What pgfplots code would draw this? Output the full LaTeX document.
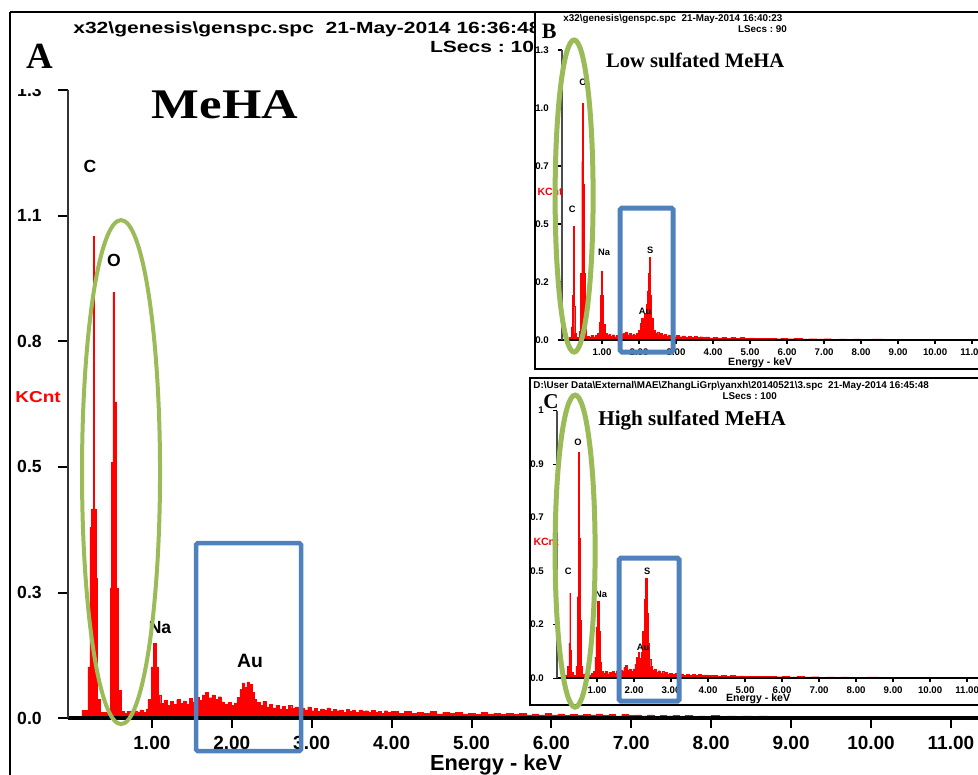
\documentclass[border=0pt]{standalone}
\usepackage{pgfplots}
\usepackage{pgfplotstable}
\usepackage{graphicx}
\pgfplotsset{compat=1.18}
\usepackage{fontspec}
\setmainfont{Liberation Sans}
\newfontfamily\tnr{Liberation Serif}
\definecolor{spec}{RGB}{255,0,0}
\definecolor{ellg}{RGB}{155,187,89}
\definecolor{boxb}{RGB}{79,129,189}
\newcommand\fs[1]{\fontsize{#1}{#1}\selectfont}

% MeHA spectrum (keV, KCnt)
\pgfplotstableread{
E v
-0.05 0
0.125 0.017
0.200 0.11
0.225 0.41
0.244 0.45
0.263 1.036
0.282 0.45
0.300 0.30
0.319 0.04
0.350 0.012
0.476 0.28
0.494 0.55
0.513 0.916
0.532 0.68
0.557 0.28
0.576 0.06
0.613 0.014
0.65 0.010
0.69 0.015
0.73 0.009
0.77 0.016
0.81 0.012
0.85 0.018
0.89 0.013
0.93 0.02
0.95 0.04
0.99 0.11
1.02 0.161
1.05 0.11
1.08 0.05
1.11 0.032
1.15 0.038
1.19 0.028
1.23 0.036
1.27 0.030
1.31 0.040
1.35 0.032
1.39 0.037
1.43 0.029
1.47 0.042
1.51 0.035
1.55 0.045
1.59 0.038
1.63 0.050
1.67 0.055
1.71 0.044
1.75 0.050
1.79 0.040
1.83 0.046
1.87 0.035
1.91 0.030
1.95 0.034
1.99 0.028
2.03 0.033
2.07 0.045
2.10 0.062
2.13 0.076
2.16 0.066
2.19 0.078
2.22 0.072
2.25 0.055
2.28 0.040
2.31 0.034
2.35 0.028
2.39 0.036
2.43 0.024
2.47 0.030
2.51 0.022
2.55 0.028
2.59 0.020
2.63 0.025
2.67 0.019
2.71 0.027
2.75 0.021
2.79 0.024
2.83 0.017
2.87 0.022
2.91 0.018
2.95 0.024
2.99 0.016
3.03 0.021
3.07 0.015
3.11 0.020
3.15 0.017
3.19 0.022
3.23 0.014
3.27 0.019
3.31 0.016
3.35 0.018
3.39 0.013
3.43 0.019
3.47 0.015
3.51 0.017
3.55 0.012
3.59 0.018
3.63 0.014
3.67 0.016
3.71 0.012
3.75 0.017
3.79 0.013
3.83 0.015
3.87 0.011
3.91 0.016
3.95 0.012
4.00 0.014
4.08 0.011
4.16 0.015
4.24 0.010
4.32 0.013
4.40 0.011
4.48 0.014
4.56 0.009
4.64 0.012
4.72 0.010
4.80 0.013
4.88 0.009
4.96 0.011
5.04 0.008
5.12 0.012
5.20 0.009
5.28 0.010
5.36 0.008
5.44 0.011
5.52 0.008
5.60 0.010
5.68 0.007
5.76 0.009
5.84 0.007
5.92 0.010
6.00 0.007
6.08 0.009
6.16 0.006
6.24 0.008
6.32 0.006
6.40 0.008
6.48 0.007
6.56 0.009
6.64 0.006
6.72 0.008
6.80 0.005
6.88 0.008
6.96 0.006
7.04 0.007
7.12 0.005
7.20 0.007
7.28 0.004
7.36 0.006
7.44 0.005
7.52 0.006
7.60 0.004
7.68 0.006
7.76 0.004
7.84 0.005
7.92 0.004
8.00 0.006
8.10 0.003
8.20 0.005
8.30 0.003
8.40 0.005
8.50 0.002
8.60 0.005
8.70 0.002
8.80 0.004
8.90 0.002
9.00 0.004
9.15 0.002
9.30 0.003
9.45 0.002
9.60 0.004
9.75 0.001
10.0 0.002
10.3 0.001
10.6 0.001
11.0 0.0
12.0 0.0
}\mainspec

% low sulfated MeHA
\pgfplotstableread{
E v
-0.08 0
0.12 0.012
0.17 0.06
0.20 0.20
0.215 0.51
0.235 0.15
0.26 0.03
0.30 0.012
0.38 0.04
0.42 0.30
0.45 0.80
0.47 1.06
0.49 0.70
0.51 0.30
0.54 0.05
0.58 0.018
0.64 0.012
0.70 0.02
0.76 0.014
0.82 0.022
0.88 0.03
0.92 0.08
0.95 0.20
0.98 0.31
1.01 0.20
1.04 0.07
1.08 0.03
1.13 0.02
1.18 0.028
1.23 0.017
1.28 0.024
1.33 0.015
1.38 0.022
1.43 0.018
1.48 0.026
1.53 0.02
1.58 0.03
1.63 0.037
1.68 0.024
1.73 0.03
1.78 0.02
1.83 0.028
1.88 0.022
1.93 0.03
1.98 0.045
2.03 0.075
2.07 0.10
2.11 0.07
2.15 0.12
2.19 0.16
2.22 0.22
2.25 0.30
2.28 0.37
2.31 0.20
2.34 0.10
2.38 0.045
2.43 0.03
2.48 0.037
2.53 0.024
2.58 0.03
2.63 0.02
2.68 0.026
2.73 0.017
2.78 0.023
2.83 0.016
2.88 0.021
2.94 0.014
3.00 0.02
3.08 0.015
3.16 0.019
3.24 0.013
3.32 0.017
3.40 0.012
3.48 0.016
3.56 0.011
3.64 0.015
3.72 0.011
3.80 0.014
3.90 0.010
4.00 0.013
4.12 0.010
4.24 0.012
4.36 0.009
4.48 0.011
4.60 0.008
4.72 0.011
4.84 0.008
4.96 0.010
5.10 0.007
5.25 0.009
5.40 0.007
5.55 0.008
5.70 0.006
5.85 0.008
6.00 0.006
6.20 0.007
6.40 0.005
6.60 0.006
6.80 0.005
7.00 0.006
7.20 0.004
7.40 0.005
7.60 0.004
7.80 0.005
8.00 0.004
8.30 0.005
8.60 0.003
8.90 0.004
9.20 0.003
9.50 0.004
9.80 0.003
10.1 0.002
10.5 0.001
11.0 0
12.0 0
}\lowspec

% high sulfated MeHA
\pgfplotstableread{
E v
-0.08 0
0.14 0.012
0.20 0.05
0.24 0.15
0.26 0.365
0.28 0.12
0.31 0.025
0.36 0.012
0.43 0.05
0.46 0.35
0.49 0.69
0.50 0.97
0.52 0.60
0.54 0.25
0.57 0.05
0.61 0.018
0.67 0.012
0.73 0.02
0.79 0.014
0.85 0.022
0.90 0.03
0.94 0.09
0.97 0.22
1.01 0.33
1.05 0.20
1.08 0.07
1.12 0.03
1.17 0.02
1.22 0.028
1.27 0.018
1.32 0.026
1.37 0.02
1.42 0.03
1.47 0.022
1.52 0.032
1.57 0.025
1.62 0.035
1.67 0.028
1.72 0.045
1.77 0.056
1.82 0.035
1.87 0.04
1.92 0.028
1.97 0.04
2.02 0.06
2.07 0.09
2.11 0.11
2.15 0.085
2.19 0.11
2.23 0.20
2.27 0.34
2.31 0.43
2.35 0.28
2.38 0.15
2.41 0.08
2.45 0.05
2.50 0.035
2.55 0.04
2.60 0.027
2.65 0.032
2.70 0.022
2.75 0.028
2.80 0.019
2.85 0.025
2.90 0.017
2.96 0.022
3.02 0.016
3.10 0.02
3.18 0.014
3.26 0.018
3.34 0.013
3.42 0.017
3.50 0.012
3.58 0.016
3.66 0.012
3.74 0.015
3.82 0.011
3.90 0.014
4.00 0.011
4.12 0.013
4.24 0.010
4.36 0.012
4.48 0.009
4.60 0.011
4.72 0.008
4.84 0.010
4.96 0.008
5.10 0.009
5.25 0.007
5.40 0.009
5.55 0.007
5.70 0.008
5.85 0.006
6.00 0.007
6.20 0.005
6.40 0.007
6.60 0.005
6.80 0.006
7.00 0.004
7.20 0.005
7.40 0.004
7.60 0.005
7.80 0.004
8.00 0.004
8.30 0.005
8.60 0.003
8.90 0.004
9.20 0.003
9.50 0.004
9.80 0.002
10.1 0.002
10.5 0.001
11.0 0
12.0 0
}\highspec

\pgfplotsset{
  eds/.style={
    scale only axis, axis line style={draw=none},
    tick pos=left, tick align=outside,
    clip mode=individual,
    xtick={1,2,3,4,5,6,7,8,9,10,11},
    xticklabels={1.00,2.00,3.00,4.00,5.00,6.00,7.00,8.00,9.00,10.00,11.00},
  },
  spc/.style={const plot, draw=spec, fill=spec, line width=0.2pt},
}

\begin{document}
\begin{tikzpicture}
\path[use as bounding box, clip] (0,0) rectangle (19.56cm,-15.5cm);

% outer frame
\begin{scope}[x=0.02cm,y=-0.02cm]
\draw[black, line width=0.05cm] (10,12) -- (990,12);
\draw[black, line width=0.05cm] (10,12) -- (10,780);
\node[anchor=base west, inner sep=0pt] at (73,33)
  {\scalebox{1.3}[1]{\fs{9.2}\bfseries x32\textbackslash genesis\textbackslash genspc.spc\ \ 21-May-2014 16:36:48}};
\node[anchor=base east, inner sep=0pt] at (546,52)
  {\scalebox{1.3}[1]{\fs{9.2}\bfseries LSecs :\ 100}};
\end{scope}

% A: MeHA
\begin{axis}[eds,
  at={(68*0.02cm,-718*0.02cm)}, anchor=south west,
  width=19.256cm, height=12.56cm,
  xmin=-0.05, xmax=12, ymin=0, ymax=1.35,
  ytick={0,0.27,0.54,0.81,1.08,1.35},
  yticklabels={0.0,0.3,0.5,0.8,1.1,1.3},
  major tick length=0.2cm,
  tick style={black, line width=0.04cm},
  xticklabel style={font=\fs{10.8}\bfseries, inner sep=0pt, anchor=north, yshift=-0.16cm},
  yticklabel style={font=\fs{10}\bfseries, inner sep=0pt, anchor=east, xshift=-0.32cm},
]
\addplot[spc] table[x=E,y=v]{\mainspec} \closedcycle;
\draw[black, line width=0.07cm] (axis cs:-0.05,0) -- (axis cs:12,0);
\draw[black!80, line width=0.04cm] (axis cs:-0.05,0) -- (axis cs:-0.05,1.35);
\end{axis}

\begin{scope}[x=0.02cm,y=-0.02cm]
\fill[white] (11,14) rectangle (54,89);
\node[anchor=base, inner sep=0pt] at (40,68) {\tnr\fs{21}\bfseries A};
\node[anchor=base, inner sep=0pt] at (225,118) {\scalebox{1.2}[1]{\tnr\fs{24}\bfseries MeHA}};
\node[inner sep=0pt, text=spec] at (38,397) {\scalebox{1.2}[1]{\fs{9}\bfseries KCnt}};
\node[inner sep=0pt] at (90,166) {\fs{10}\bfseries C};
\node[inner sep=0pt] at (114,260) {\fs{10}\bfseries O};
\node[inner sep=0pt] at (160,627) {\fs{10}\bfseries Na};
\node[inner sep=0pt] at (250,661) {\fs{11}\bfseries Au};

% B frame
\draw[black, fill=white, line width=0.035cm] (535,12) rectangle (995,369);
\draw[black, line width=0.05cm] (535,12) -- (990,12);
\node[anchor=base west, inner sep=0pt] at (563,21)
  {\fs{5.6}\bfseries x32\textbackslash genesis\textbackslash genspc.spc\ \ 21-May-2014 16:40:23};
\node[anchor=base east, inner sep=0pt] at (787,32) {\fs{5.6}\bfseries LSecs :\ 90};
\end{scope}

% B: low sulfated
\begin{axis}[eds,
  at={(562*0.02cm,-340*0.02cm)}, anchor=south west,
  width=8.94cm, height=5.8cm,
  xmin=-0.08, xmax=12, ymin=0, ymax=1.3,
  ytick={0,0.26,0.52,0.78,1.04,1.3},
  yticklabels={0.0,0.2,0.5,0.7,1.0,1.3},
  major tick length=0.08cm,
  tick style={black, line width=0.025cm},
  xticklabel style={font=\fs{5.5}\bfseries, inner sep=0pt, anchor=north, yshift=-0.08cm},
  yticklabel style={font=\fs{5.5}\bfseries, inner sep=0pt, anchor=east, xshift=-0.18cm},
]
\addplot[spc] table[x=E,y=v]{\lowspec} \closedcycle;
\draw[black, line width=0.045cm] (axis cs:-0.08,0) -- (axis cs:12,0);
\draw[black!70, line width=0.025cm] (axis cs:-0.08,0) -- (axis cs:-0.08,1.3);
\end{axis}

\begin{scope}[x=0.02cm,y=-0.02cm]
\node[anchor=base, inner sep=0pt] at (760,365) {\fs{6}\bfseries Energy - keV};
\node[anchor=base, inner sep=0pt] at (549,38) {\tnr\fs{12.5}\bfseries B};
\node[anchor=base, inner sep=0pt] at (695,67) {\tnr\fs{11.7}\bfseries Low sulfated MeHA};
\node[inner sep=0pt, text=spec] at (550,192) {\fs{6}\bfseries KCnt};
\node[inner sep=0pt] at (583,82) {\fs{5.3}\bfseries O};
\node[inner sep=0pt] at (572,209) {\fs{5.3}\bfseries C};
\node[inner sep=0pt] at (604,252) {\fs{5.3}\bfseries Na};
\node[inner sep=0pt] at (650,250) {\fs{5.3}\bfseries S};
\node[inner sep=0pt] at (645,311) {\fs{5.3}\bfseries Au};

% C frame
\draw[black, fill=white, line width=0.035cm] (530,378) rectangle (995,705);
\node[anchor=base west, inner sep=0pt] at (533,388)
  {\fs{5.6}\bfseries D:\textbackslash User Data\textbackslash External\textbackslash MAE\textbackslash ZhangLiGrp\textbackslash yanxh\textbackslash 20140521\textbackslash 3.spc\ \ 21-May-2014 16:45:48};
\node[anchor=base east, inner sep=0pt] at (777,399) {\fs{5.6}\bfseries LSecs :\ 100};
\end{scope}

% C: high sulfated
\begin{axis}[eds,
  at={(557*0.02cm,-678*0.02cm)}, anchor=south west,
  width=8.94cm, height=5.35cm,
  xmin=-0.08, xmax=12, ymin=0, ymax=1.15,
  ytick={0,0.23,0.46,0.69,0.92,1.15},
  yticklabels={0.0,0.2,0.5,0.7,0.9,1},
  major tick length=0.08cm,
  tick style={black, line width=0.025cm},
  xticklabel style={font=\fs{5.5}\bfseries, inner sep=0pt, anchor=north, yshift=-0.08cm},
  yticklabel style={font=\fs{5.5}\bfseries, inner sep=0pt, anchor=east, xshift=-0.18cm},
]
\addplot[spc] table[x=E,y=v]{\highspec} \closedcycle;
\draw[black, line width=0.045cm] (axis cs:-0.08,0) -- (axis cs:12,0);
\draw[black!70, line width=0.025cm] (axis cs:-0.08,0) -- (axis cs:-0.08,1.15);
\end{axis}

\begin{scope}[x=0.02cm,y=-0.02cm]
\node[anchor=base, inner sep=0pt] at (758,701) {\fs{6}\bfseries Energy - keV};
\node[anchor=base, inner sep=0pt] at (551,408) {\tnr\fs{12}\bfseries C};
\node[anchor=base, inner sep=0pt] at (692,425) {\tnr\fs{12}\bfseries High sulfated MeHA};
\node[inner sep=0pt, text=spec] at (546,542) {\fs{6}\bfseries KCnt};
\node[inner sep=0pt] at (578,442) {\fs{5.3}\bfseries O};
\node[inner sep=0pt] at (568,571) {\fs{5.3}\bfseries C};
\node[inner sep=0pt] at (601,594) {\fs{5.3}\bfseries Na};
\node[inner sep=0pt] at (647,571) {\fs{5.3}\bfseries S};
\node[inner sep=0pt] at (643,647) {\fs{5.3}\bfseries Au};

% main axis label
\node[anchor=base, inner sep=0pt] at (496,770) {\fs{12.4}\bfseries Energy - keV};

% highlights
\draw[ellg, line width=0.08cm] (121,472) ellipse [x radius=39, y radius=252];
\draw[boxb, line width=0.09cm, rounded corners=1pt] (196,543) rectangle (301,751);
\draw[ellg, line width=0.1cm] (574,196) ellipse [x radius=19, y radius=156];
\draw[boxb, line width=0.1cm, rounded corners=1pt] (620,208) rectangle (673,352);
\draw[ellg, line width=0.1cm] (575,551) ellipse [x radius=20, y radius=156];
\draw[boxb, line width=0.1cm, rounded corners=1pt] (619,558) rectangle (679,701);
\end{scope}
\end{tikzpicture}
\end{document}
